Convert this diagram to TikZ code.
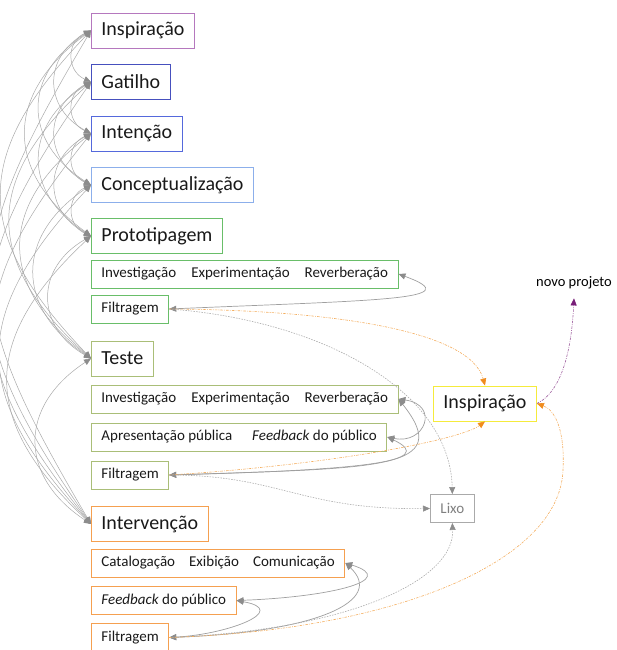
\documentclass[tikz,border=0pt]{standalone}
\usepackage{fontspec}
\setmainfont{Carlito}
\usetikzlibrary{arrows.meta}
\definecolor{cInsp}{RGB}{181,120,190}
\definecolor{cGat}{RGB}{70,80,190}
\definecolor{cInt}{RGB}{85,105,220}
\definecolor{cCon}{RGB}{140,175,235}
\definecolor{cPro}{RGB}{105,190,105}
\definecolor{cTes}{RGB}{170,190,120}
\definecolor{cInv}{RGB}{245,160,80}
\definecolor{cNew}{RGB}{245,235,60}
\definecolor{cLixo}{RGB}{170,170,170}
\definecolor{cOrange}{RGB}{240,140,30}
\definecolor{cPurple}{RGB}{120,30,120}
\definecolor{linkgray}{RGB}{170,170,170}
\definecolor{tipgray}{RGB}{140,140,140}

\begin{document}
\begin{tikzpicture}[x=1pt,y=1pt,
    stage/.style={draw=#1,line width=0.9pt,anchor=west,minimum height=35pt,
      inner xsep=10pt,text=black!90,font=\fontsize{20}{22}\selectfont},
    sub/.style={draw=#1,line width=0.9pt,anchor=west,minimum height=28pt,
      inner xsep=10pt,text=black!90,font=\fontsize{15}{17}\selectfont},
    gtip/.tip={Triangle[length=7pt,width=6pt,color=tipgray]},
    otip/.tip={Triangle[length=7pt,width=6pt,color=cOrange]},
    ptip/.tip={Triangle[length=7pt,width=6pt,color=cPurple]},
    stagelink/.style={draw=linkgray,line width=0.5pt,{gtip}-{gtip}},
    loop/.style={draw=gray!75,line width=0.7pt,{gtip}-{gtip}},
    toinsp/.style={draw=cOrange!70,line width=0.6pt,
      dash pattern=on 2.5pt off 1.2pt on 0.8pt off 1.2pt,-{otip}},
    totrash/.style={draw=gray!65,line width=0.6pt,
      dash pattern=on 1.5pt off 1.2pt,-{gtip}},
    tonew/.style={draw=cPurple!70,line width=0.6pt,
      dash pattern=on 2.5pt off 1.2pt on 0.8pt off 1.2pt,-{ptip}}]
  \useasboundingbox (0,0) rectangle (617,-650);
  \def\gap{\hspace{15pt}}

  % etapas
  \node[stage=cInsp] (insp) at (91,-30.5) {Inspiração};
  \node[stage=cGat] (gat) at (91,-82) {Gatilho};
  \node[stage=cInt] (int) at (91,-133.5) {Intenção};
  \node[stage=cCon] (con) at (91,-185) {Conceptualização};
  \node[stage=cPro] (pro) at (91,-236) {Prototipagem};
  \node[sub=cPro] (pinv) at (91,-274) {Investigação\gap Experimentação\gap Reverberação\hspace{8pt}};
  \node[sub=cPro] (pfilt) at (91,-309) {Filtragem};
  \node[stage=cTes] (tes) at (91,-358.5) {Teste};
  \node[sub=cTes] (tinv) at (91,-399) {Investigação\gap Experimentação\gap Reverberação\hspace{8pt}};
  \node[sub=cTes] (tapr) at (91,-437) {Apresentação pública\hspace{20pt}\textit{Feedback} do público};
  \node[sub=cTes] (tfilt) at (91,-475) {Filtragem};
  \node[stage=cInv] (inv) at (91,-524) {Intervenção};
  \node[sub=cInv] (cat) at (91,-563) {Catalogação\hspace{14pt}Exibição\hspace{14pt}Comunicação};
  \node[sub=cInv] (ifb) at (91,-600.5) {\textit{Feedback} do público};
  \node[sub=cInv,minimum height=29pt] (ifilt) at (91,-637.5) {Filtragem};

  \node[stage=cNew] (rinsp) at (433,-403.5) {Inspiração};
  \node[sub=cLixo,text=gray] (lixo) at (430,-508.5) {Lixo};
  \node[font=\fontsize{14.5}{16}\selectfont,inner sep=1pt] (novo) at (574,-283) {novo projeto};

  % ligacoes entre etapas
  \foreach \a/\ya [count=\i] in {insp/30.5,gat/82,int/133.5,con/185,pro/236,tes/358.5,inv/524}
    \foreach \b/\yb [count=\j] in {insp/30.5,gat/82,int/133.5,con/185,pro/236,tes/358.5,inv/524} {
      \ifnum\j>\i
        \pgfmathsetmacro\ang{70-0.08*(\yb-\ya)}
        \draw[stagelink] (\a.west) to[bend right=\ang,looseness=1.35] (\b.west);
      \fi
    }

  % ciclos internos
  \draw[loop] (pfilt.east) .. controls (380,-300) and (470,-300) .. (pinv.east);
  \draw[loop] (tfilt.east) .. controls (380,-468) and (455,-470) .. (tinv.east);
  \draw[loop] (tfilt.east) .. controls (360,-470) and (440,-462) .. (tapr.east);
  \draw[loop] (tapr.east) .. controls (425,-445) and (440,-405) .. (tinv.east);
  \draw[loop] (ifb.east) .. controls (330,-597) and (400,-580) .. (cat.east);
  \draw[loop] (ifilt.east) .. controls (320,-632) and (385,-600) .. (cat.east);
  \draw[loop] (ifilt.east) .. controls (230,-634) and (290,-610) .. (ifb.east);

  % saidas da filtragem
  \draw[toinsp] (pfilt.east) .. controls (330,-310) and (470,-330) .. (rinsp.north -| 485,0);
  \draw[totrash] (pfilt.east) .. controls (320,-320) and (450,-390) .. (lixo.north);
  \draw[toinsp] (tfilt.east) .. controls (330,-465) and (460,-440) .. (rinsp.south -| 485,0);
  \draw[totrash] (tfilt.east) .. controls (280,-475) and (300,-510) .. (lixo.west);
  \draw[totrash] (ifilt.east) .. controls (350,-630) and (455,-580) .. (lixo.south);
  \draw[toinsp] (ifilt.east) .. controls (400,-630) and (560,-560) .. (563,-470)
    .. controls (565,-430) and (555,-410) .. (rinsp.east);
  \draw[tonew] (rinsp.east) .. controls (565,-390) and (572,-340) .. ([yshift=-8pt]novo.south);
\end{tikzpicture}
\end{document}
